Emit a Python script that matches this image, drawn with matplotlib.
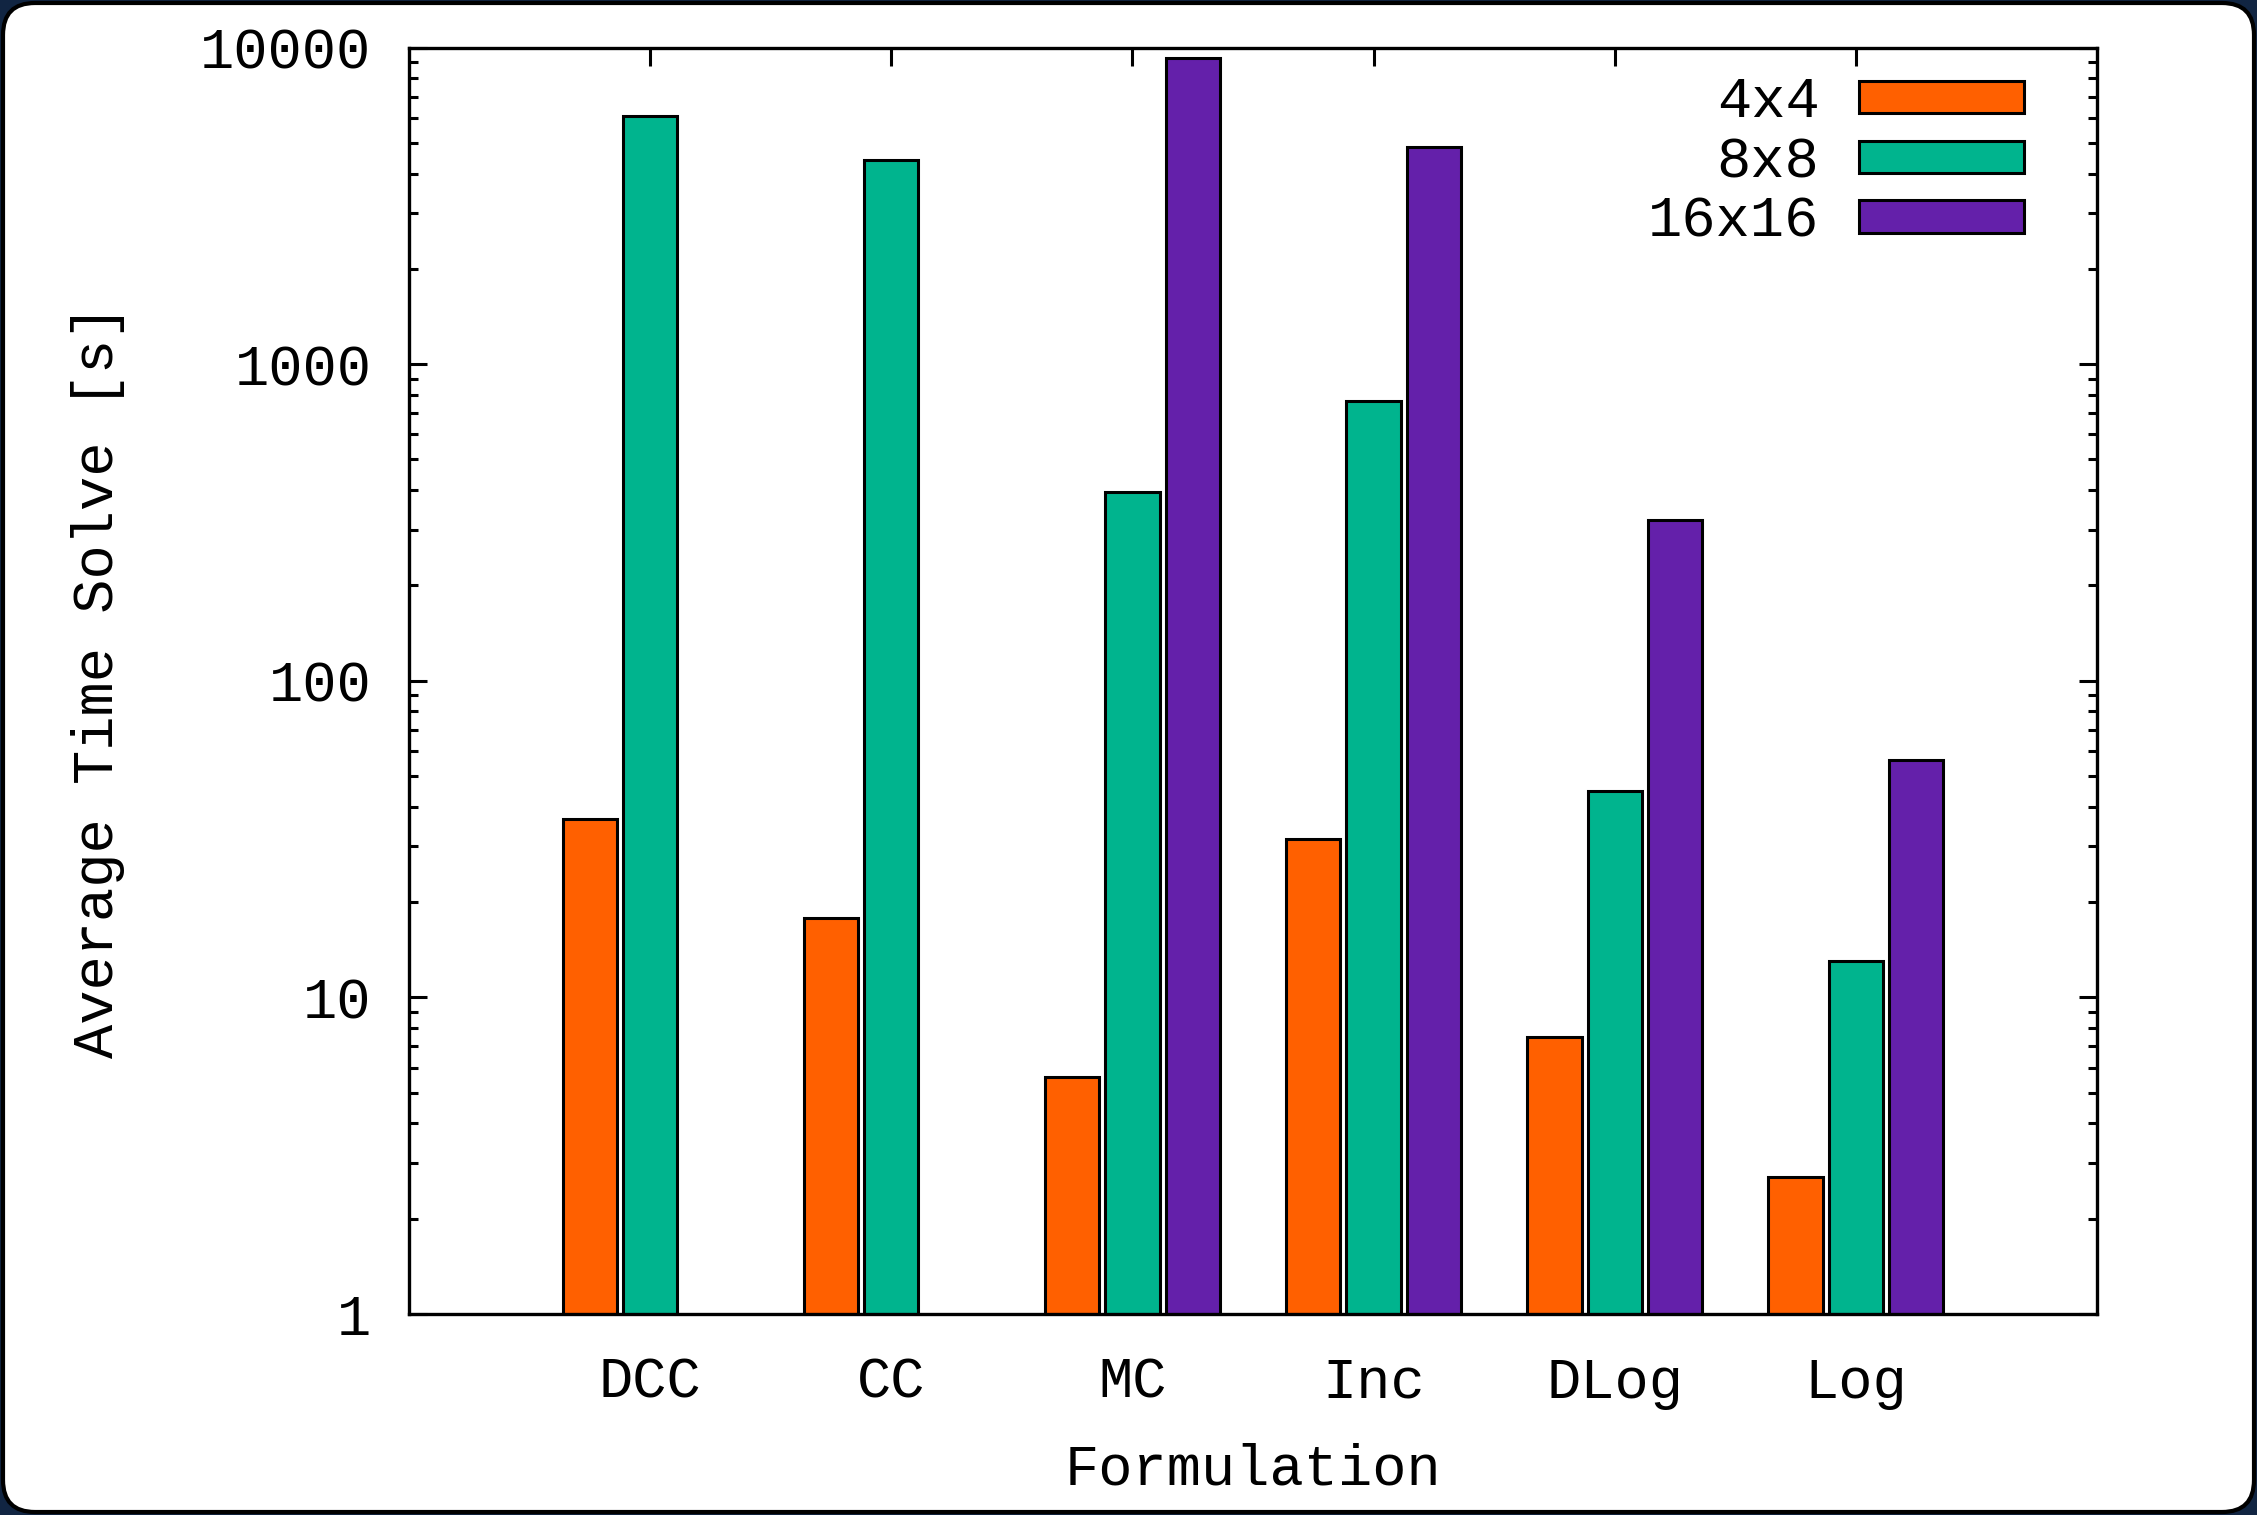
import matplotlib
matplotlib.use("Agg")
import matplotlib.pyplot as plt
import numpy as np
from matplotlib.patches import FancyBboxPatch, Patch
from matplotlib.ticker import LogLocator, NullFormatter

# data
formulations = ["DCC", "CC", "MC", "Inc", "DLog", "Log"]
sizes = ["4x4", "8x8", "16x16"]
t_4x4 = [36.6, 17.8, 5.6, 31.6, 7.5, 2.7]
t_8x8 = [6100, 4400, 395, 765, 44.7, 13.0]
t_16x16 = [np.nan, np.nan, 9300, 4850, 323, 56]
colors = ["#ff6000", "#00b48e", "#6420aa"]

plt.rcParams["font.family"] = ["Liberation Mono", "DejaVu Sans Mono"]
fs = 41

fig = plt.figure(figsize=(22.57, 15.15), dpi=100)
fig.patch.set_facecolor("#112542")

# rounded white panel behind everything
bg = fig.add_axes([0, 0, 1, 1], zorder=0)
bg.set_xlim(0, 2257)
bg.set_ylim(0, 1515)
bg.axis("off")
bg.add_patch(FancyBboxPatch((3, 3), 2251, 1509,
                            boxstyle="round,pad=0,rounding_size=32",
                            fc="white", ec="black", lw=3))

ax = fig.add_axes([0.1812, 0.1327, 0.7479, 0.8359], zorder=1)
ax.patch.set_alpha(0)

x = np.arange(len(formulations))
w = 0.225
offsets = [-0.25, 0.0, 0.25]
for vals, off, c, lab in zip([t_4x4, t_8x8, t_16x16], offsets, colors, sizes):
    ax.bar(x + off, vals, width=w, color=c, edgecolor="black", linewidth=2.2,
           label=lab, bottom=0)

ax.set_yscale("log")
ax.set_ylim(1, 10000)
ax.set_xlim(-1, 6)

ax.set_yticks([1, 10, 100, 1000, 10000])
ax.set_yticklabels(["1", "10", "100", "1000", "10000"])
ax.yaxis.set_minor_locator(LogLocator(base=10, subs=np.arange(2, 10)))
ax.yaxis.set_minor_formatter(NullFormatter())
ax.set_xticks(x)
ax.set_xticklabels(formulations)

ax.set_axisbelow(True)
ax.tick_params(which="both", direction="in", top=True, right=True, width=2.2,
               labelsize=fs)
ax.tick_params(which="major", length=13)
ax.tick_params(which="minor", length=6.5)
ax.tick_params(axis="y", pad=27)
ax.tick_params(axis="x", pad=30)
for s in ax.spines.values():
    s.set_linewidth(2.4)

ax.set_ylabel("Average Time Solve [s]", fontsize=fs, labelpad=54)
ax.set_xlabel("Formulation", fontsize=fs, labelpad=24)

handles = [Patch(fc=c, ec="black", lw=2.2) for c in colors]
leg = ax.legend(handles, sizes, loc="upper right", bbox_to_anchor=(0.957, 0.978),
                frameon=False, markerfirst=False, fontsize=fs,
                handlelength=2.9, handleheight=0.5, handletextpad=0.7,
                labelspacing=0.1, borderpad=0, borderaxespad=0)

fig.savefig("out.png", dpi=100, facecolor=fig.get_facecolor())
